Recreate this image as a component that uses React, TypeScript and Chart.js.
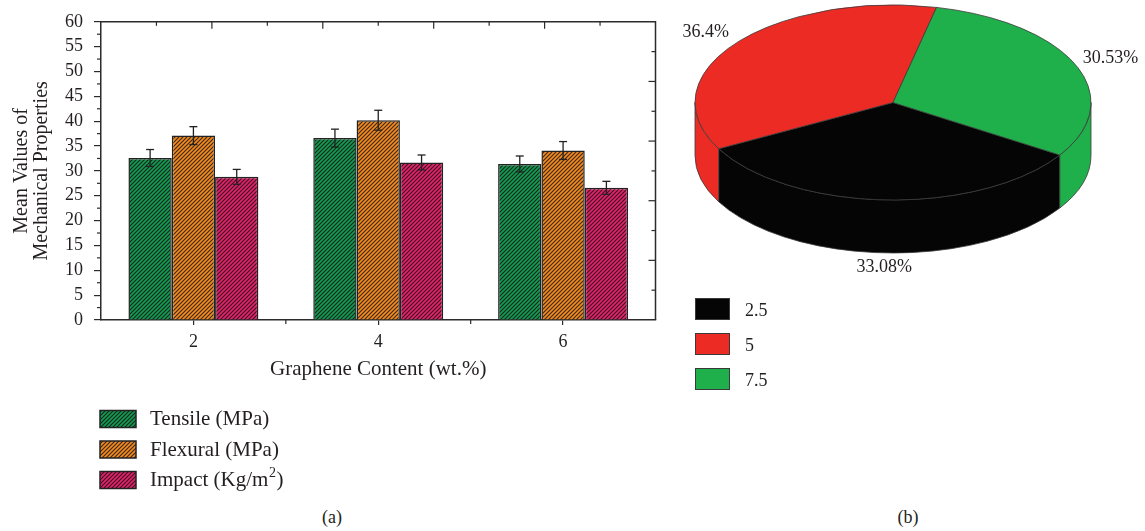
import React, { useEffect, useRef } from 'react';
import { Chart, registerables } from 'chart.js';

Chart.register(...registerables);

// Graphene content categories (wt.%)
const contents = ['2', '4', '6'];

// Mean mechanical properties and their error bars
const seriesNames = ['Tensile (MPa)', 'Flexural (MPa)', 'Impact (Kg/m²)'];
const tensile = [32.6, 36.6, 31.4];
const flexural = [37.1, 40.2, 34.1];
const impact = [28.8, 31.7, 26.6];
const tensileErr = [1.7, 1.8, 1.6];
const flexuralErr = [1.8, 2.0, 1.8];
const impactErr = [1.5, 1.5, 1.3];

// Left axis range
const yMin = 0;
const yMax = 60;
const yStep = 5;

// Pie shares
const shareLabels = ['2.5', '5', '7.5'];
const shareValues = [33.08, 36.4, 30.53];
const shareColors = ['#050505', '#ec2b25', '#20b04b'];

const FONT = "'Liberation Serif', 'Times New Roman', serif";
const TEXT = '#231f20';
const AXIS = '#2b2b2b';

function hatch(base: string, line: string): CanvasPattern | string {
  const c = document.createElement('canvas');
  c.width = 4;
  c.height = 4;
  const g = c.getContext('2d');
  if (!g) return base;
  g.fillStyle = base;
  g.fillRect(0, 0, 4, 4);
  g.strokeStyle = line;
  g.lineWidth = 1.1;
  g.beginPath();
  g.moveTo(-1, 5);
  g.lineTo(5, -1);
  g.moveTo(-1, 1);
  g.lineTo(1, -1);
  g.moveTo(3, 5);
  g.lineTo(5, 3);
  g.stroke();
  return g.createPattern(c, 'repeat') || base;
}

function seg(ctx: CanvasRenderingContext2D, x1: number, y1: number, x2: number, y2: number) {
  ctx.beginPath();
  ctx.moveTo(x1, y1);
  ctx.lineTo(x2, y2);
  ctx.stroke();
}

// Writes a label, raising any "²" as a proper superscript
function labelText(ctx: CanvasRenderingContext2D, text: string, x: number, y: number, size: number) {
  const parts = text.split('²');
  let cx = x;
  parts.forEach((p, i) => {
    ctx.font = `${size}px ${FONT}`;
    ctx.fillText(p, cx, y);
    cx += ctx.measureText(p).width;
    if (i < parts.length - 1) {
      ctx.font = `${Math.round(size * 0.68)}px ${FONT}`;
      ctx.fillText('2', cx + 0.5, y - size * 0.33);
      cx += ctx.measureText('2').width + 1;
    }
  });
}

// Error bars, framing ticks and the stacked legend under the plot
const barDecor = {
  id: 'barDecor',
  afterDatasetsDraw(chart: any) {
    const ctx: CanvasRenderingContext2D = chart.ctx;
    const y = chart.scales.y;
    ctx.save();
    ctx.strokeStyle = '#222';
    ctx.lineWidth = 1.3;
    chart.data.datasets.forEach((ds: any, i: number) => {
      const meta = chart.getDatasetMeta(i);
      meta.data.forEach((bar: any, j: number) => {
        const v = ds.data[j];
        const e = ds.errors[j];
        const top = y.getPixelForValue(v + e);
        const bot = y.getPixelForValue(v - e);
        seg(ctx, bar.x, top, bar.x, bot);
        seg(ctx, bar.x - 4, top, bar.x + 4, top);
        seg(ctx, bar.x - 4, bot, bar.x + 4, bot);
      });
    });
    ctx.restore();
  },
  afterDraw(chart: any) {
    const ctx: CanvasRenderingContext2D = chart.ctx;
    const a = chart.chartArea;
    const x = chart.scales.x;
    const y = chart.scales.y;
    ctx.save();
    ctx.strokeStyle = AXIS;
    ctx.lineWidth = 1.5;
    ctx.beginPath();
    ctx.moveTo(a.left, a.top);
    ctx.lineTo(a.right, a.top);
    ctx.lineTo(a.right, a.bottom);
    ctx.stroke();

    ctx.lineWidth = 1.2;
    for (let v = yMin + yStep / 2; v < yMax; v += yStep) {
      const py = y.getPixelForValue(v);
      seg(ctx, a.left - 4, py, a.left, py);
    }
    for (let i = 0; i < contents.length - 1; i++) {
      const px = (x.getPixelForValue(i) + x.getPixelForValue(i + 1)) / 2;
      seg(ctx, px, a.bottom, px, a.bottom + 4);
    }
    const w = a.right - a.left;
    const h = a.bottom - a.top;
    for (let k = 1; k < 10; k++) {
      const len = k % 2 === 0 ? 7 : 4;
      const px = a.left + (k * w) / 10;
      seg(ctx, px, a.top, px, a.top + len);
      const py = a.bottom - (k * h) / 10;
      seg(ctx, a.right - len, py, a.right, py);
    }

    // legend
    ctx.textBaseline = 'middle';
    ctx.textAlign = 'left';
    chart.data.datasets.forEach((ds: any, i: number) => {
      const top = 410.5 + i * 30.5;
      ctx.fillStyle = ds.backgroundColor;
      ctx.fillRect(100, top, 36, 17);
      ctx.strokeStyle = '#222';
      ctx.lineWidth = 1.5;
      ctx.strokeRect(100, top, 36, 17);
      ctx.fillStyle = TEXT;
      labelText(ctx, ds.label, 150, top + 9, 21);
    });
    ctx.restore();
  },
};

// Oblique 3-D rendering of the pie arcs computed by Chart.js
const TILT = 0.4924;
const DEPTH = 53;

const pie3d = {
  id: 'pie3d',
  beforeDatasetsDraw(chart: any) {
    const ctx: CanvasRenderingContext2D = chart.ctx;
    const arcs = chart.getDatasetMeta(0).data;
    if (!arcs.length) return false;
    const r = arcs[0].outerRadius;
    const cx = arcs[0].x;
    const ry = r * TILT;
    const cy = ry + 5;
    const colors = chart.data.datasets[0].backgroundColor;

    ctx.save();
    ctx.lineJoin = 'round';
    // outer walls on the front half
    arcs.forEach((arc: any, i: number) => {
      const ranges = [
        [0, Math.PI],
        [2 * Math.PI, 3 * Math.PI],
      ];
      ranges.forEach(([lo, hi]) => {
        const s = Math.max(arc.startAngle, lo);
        const e = Math.min(arc.endAngle, hi);
        if (e <= s) return;
        ctx.beginPath();
        ctx.ellipse(cx, cy, r, ry, 0, s, e, false);
        ctx.lineTo(cx + r * Math.cos(e), cy + DEPTH + ry * Math.sin(e));
        ctx.ellipse(cx, cy + DEPTH, r, ry, 0, e, s, true);
        ctx.closePath();
        ctx.fillStyle = colors[i];
        ctx.fill();
        ctx.strokeStyle = '#3a3a3a';
        ctx.lineWidth = 0.8;
        ctx.stroke();
      });
    });
    // top faces
    arcs.forEach((arc: any, i: number) => {
      ctx.beginPath();
      ctx.moveTo(cx, cy);
      ctx.ellipse(cx, cy, r, ry, 0, arc.startAngle, arc.endAngle, false);
      ctx.closePath();
      ctx.fillStyle = colors[i];
      ctx.fill();
      ctx.strokeStyle = '#3a3a3a';
      ctx.lineWidth = 0.8;
      ctx.stroke();
    });
    // percentage labels
    ctx.font = `18px ${FONT}`;
    ctx.fillStyle = TEXT;
    ctx.textAlign = 'center';
    ctx.textBaseline = 'middle';
    const R = r * 1.187;
    arcs.forEach((arc: any, i: number) => {
      const mid = (arc.startAngle + arc.endAngle) / 2;
      const sn = Math.sin(mid);
      const lx = cx + R * Math.cos(mid);
      const ly = cy + R * TILT * sn + (sn > 0 ? DEPTH * 0.92 : 0);
      ctx.fillText(`${chart.data.datasets[0].data[i]}%`, lx, ly);
    });
    ctx.restore();
    return false;
  },
};

export default function App() {
  const barRef = useRef<HTMLCanvasElement>(null);
  const pieRef = useRef<HTMLCanvasElement>(null);

  useEffect(() => {
    if (!barRef.current || !pieRef.current) return;
    const fills = [
      hatch('#159a52', '#11261a'),
      hatch('#f28c22', '#3b2510'),
      hatch('#e2246a', '#3a1020'),
    ];
    const values = [tensile, flexural, impact];
    const errors = [tensileErr, flexuralErr, impactErr];

    const bar = new Chart(barRef.current, {
      type: 'bar',
      data: {
        labels: contents,
        datasets: seriesNames.map((name, i) => ({
          label: name,
          data: values[i],
          errors: errors[i],
          backgroundColor: fills[i],
          borderColor: '#222',
          borderWidth: 1.5,
          barPercentage: 1,
          categoryPercentage: 0.703,
        })) as any,
      },
      options: {
        animation: false,
        responsive: false,
        maintainAspectRatio: false,
        layout: { padding: { top: 15.5, right: 24.5, bottom: 118, left: 0 } },
        plugins: { legend: { display: false }, tooltip: { enabled: false } },
        scales: {
          x: {
            grid: {
              display: true,
              drawOnChartArea: false,
              offset: false,
              tickLength: 5,
              color: AXIS,
              lineWidth: 1.2,
            },
            border: { display: true, color: AXIS, width: 1.5 },
            ticks: { font: { family: FONT, size: 18 }, color: TEXT, padding: 6, maxRotation: 0 },
            title: {
              display: true,
              text: 'Graphene Content (wt.%)',
              font: { family: FONT, size: 21 },
              color: TEXT,
              padding: 0,
            },
            afterFit: (s: any) => {
              s.height = 62;
            },
          },
          y: {
            min: yMin,
            max: yMax,
            grid: {
              display: true,
              drawOnChartArea: false,
              tickLength: 7,
              color: AXIS,
              lineWidth: 1.2,
            },
            border: { display: true, color: AXIS, width: 1.5 },
            ticks: { stepSize: yStep, font: { family: FONT, size: 18 }, color: TEXT, padding: 11 },
            title: {
              display: true,
              text: ['Mean Values of', 'Mechanical Properties'],
              font: { family: FONT, size: 20, lineHeight: 1 },
              color: TEXT,
              padding: { top: 12, bottom: 0 },
            },
            afterFit: (s: any) => {
              s.width = 101;
            },
          },
        },
      },
      plugins: [barDecor],
    });

    const pie = new Chart(pieRef.current, {
      type: 'pie',
      data: {
        labels: shareLabels,
        datasets: [{ data: shareValues, backgroundColor: shareColors, borderWidth: 0 }],
      },
      options: {
        animation: false,
        responsive: false,
        maintainAspectRatio: false,
        rotation: 122.6,
        layout: { padding: { left: 15, right: 54, top: 12, bottom: 12 } },
        plugins: { legend: { display: false }, tooltip: { enabled: false } },
      },
      plugins: [pie3d],
    });

    return () => {
      bar.destroy();
      pie.destroy();
    };
  }, []);

  return (
    <div
      style={{
        position: 'fixed',
        left: 0,
        top: 0,
        width: 1145,
        height: 531,
        background: '#fff',
        overflow: 'hidden',
        fontFamily: FONT,
        color: TEXT,
      }}
    >
      <canvas
        ref={barRef}
        width={680}
        height={500}
        style={{ position: 'absolute', left: 0, top: 0, width: 680, height: 500 }}
      />
      <canvas
        ref={pieRef}
        width={465}
        height={420}
        style={{ position: 'absolute', left: 680, top: 0, width: 465, height: 420 }}
      />
      {shareLabels.map((lab, i) => (
        <div key={lab}>
          <div
            style={{
              position: 'absolute',
              left: 695,
              top: 298 + i * 35,
              width: 33,
              height: 20,
              background: shareColors[i],
              border: '1.5px solid #3a3a3a',
            }}
          />
          <div
            style={{
              position: 'absolute',
              left: 745,
              top: 309.5 + i * 35,
              transform: 'translateY(-50%)',
              fontSize: 18,
              lineHeight: 1,
              whiteSpace: 'nowrap',
            }}
          >
            {lab}
          </div>
        </div>
      ))}
      <div
        style={{
          position: 'absolute',
          left: 332,
          top: 517,
          transform: 'translate(-50%, -50%)',
          fontSize: 18,
          lineHeight: 1,
        }}
      >
        (a)
      </div>
      <div
        style={{
          position: 'absolute',
          left: 908,
          top: 517,
          transform: 'translate(-50%, -50%)',
          fontSize: 18,
          lineHeight: 1,
        }}
      >
        (b)
      </div>
    </div>
  );
}
